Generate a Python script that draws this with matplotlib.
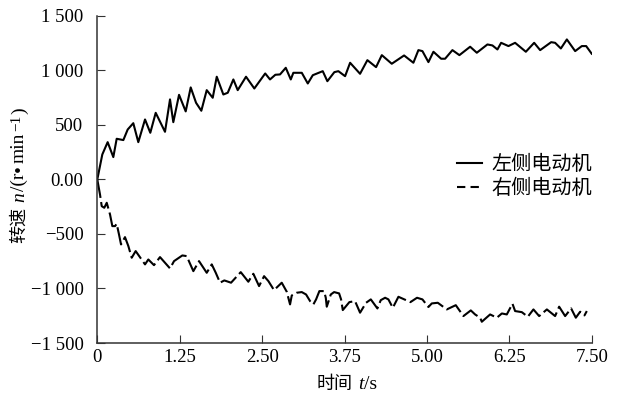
import matplotlib
matplotlib.use('Agg')
import matplotlib.pyplot as plt
from matplotlib.lines import Line2D
from matplotlib.transforms import IdentityTransform

# speed of the left motor (solid) and right motor (dashed), r/min
t_left = [0.000, 0.076, 0.157, 0.243, 0.294, 0.395, 0.461, 0.546, 0.622, 0.724,
          0.804, 0.886, 1.027, 1.103, 1.153, 1.240, 1.341, 1.417, 1.498, 1.578,
          1.660, 1.751, 1.812, 1.912, 1.979, 2.064, 2.130, 2.256, 2.382, 2.547,
          2.620, 2.701, 2.772, 2.859, 2.935, 2.974, 3.102, 3.193, 3.269, 3.420,
          3.490, 3.596, 3.657, 3.759, 3.835, 3.986, 4.097, 4.229, 4.316, 4.467,
          4.654, 4.795, 4.871, 4.932, 5.023, 5.099, 5.216, 5.276, 5.387, 5.493,
          5.656, 5.757, 5.918, 5.994, 6.070, 6.126, 6.237, 6.338, 6.501, 6.627,
          6.718, 6.885, 6.945, 7.032, 7.123, 7.249, 7.350, 7.416, 7.500]
n_left = [0, 229, 342, 205, 373, 361, 458, 516, 342, 550,
          428, 611, 437, 734, 525, 776, 624, 844, 703, 630,
          819, 749, 942, 779, 795, 917, 819, 942, 834, 972,
          917, 960, 963, 1024, 917, 978, 978, 880, 956, 993,
          901, 984, 993, 947, 1070, 969, 1094, 1030, 1140, 1061,
          1137, 1070, 1186, 1177, 1076, 1171, 1107, 1107, 1186, 1140,
          1217, 1162, 1238, 1229, 1192, 1253, 1223, 1253, 1171, 1253,
          1186, 1259, 1253, 1201, 1284, 1177, 1223, 1223, 1153]

t_right = [0.000, 0.041, 0.067, 0.106, 0.143, 0.193, 0.228, 0.269, 0.294, 0.329,
           0.360, 0.420, 0.471, 0.522, 0.582, 0.724, 0.774, 0.860, 0.951, 1.103,
           1.164, 1.290, 1.356, 1.457, 1.543, 1.660, 1.736, 1.797, 1.862, 1.927,
           2.029, 2.176, 2.291, 2.367, 2.454, 2.530, 2.595, 2.681, 2.798, 2.874,
           2.924, 2.950, 3.026, 3.102, 3.167, 3.228, 3.278, 3.319, 3.369, 3.440,
           3.466, 3.481, 3.542, 3.592, 3.668, 3.698, 3.724, 3.824, 3.910, 3.986,
           4.077, 4.149, 4.249, 4.300, 4.366, 4.416, 4.483, 4.568, 4.750, 4.850,
           4.932, 5.023, 5.074, 5.165, 5.302, 5.438, 5.554, 5.666, 5.731, 5.807,
           5.833, 5.959, 6.061, 6.137, 6.212, 6.298, 6.338, 6.440, 6.531, 6.616,
           6.703, 6.820, 6.945, 7.006, 7.097, 7.188, 7.259, 7.325, 7.390, 7.426]
n_right = [0, -138, -245, -260, -214, -321, -428, -428, -407, -504,
           -596, -529, -611, -718, -657, -779, -734, -786, -712, -816,
           -749, -697, -703, -841, -749, -856, -779, -856, -947, -926,
           -947, -850, -938, -865, -978, -887, -932, -1015, -947, -1030,
           -1146, -1064, -1039, -1033, -1055, -1116, -1146, -1100, -1024, -1024,
           -1085, -1167, -1055, -1033, -1045, -1100, -1198, -1125, -1116, -1222,
           -1131, -1100, -1183, -1107, -1085, -1100, -1177, -1076, -1125, -1085,
           -1100, -1170, -1137, -1131, -1192, -1153, -1253, -1201, -1238, -1268,
           -1305, -1238, -1268, -1229, -1238, -1140, -1207, -1217, -1259, -1192,
           -1253, -1192, -1253, -1167, -1253, -1183, -1268, -1213, -1247, -1207]

x_ticks = [0, 1.25, 2.5, 3.75, 5.0, 6.25, 7.5]
x_labels = ['0', '1.25', '2.50', '3.75', '5.00', '6.25', '7.50']
y_ticks = [1500, 1000, 500, 0, -500, -1000, -1500]
y_labels = ['1 500', '1 000', '500', '0.00', '\u2212500', '\u22121 000', '\u22121 500']
series_names = ['左侧电动机', '右侧电动机']

SERIF = 'Liberation Serif'
CJK = 'Noto Sans CJK SC'

fig = plt.figure(figsize=(6.17, 3.97), dpi=100)
ax = fig.add_axes([0.1577, 0.136, 0.8013, 0.824])

ax.plot(t_left, n_left, color='black', lw=1.5)
ax.plot(t_right, n_right, color='black', lw=1.5, ls=(0, (9, 2)))

ax.set_xlim(0, 7.5)
ax.set_ylim(-1500, 1500)
ax.set_xticks(x_ticks)
ax.set_xticklabels(x_labels, family=SERIF, fontsize=13.5)
ax.set_yticks(y_ticks)
ax.set_yticklabels(y_labels, family=SERIF, fontsize=13.5)
ax.tick_params(direction='in', length=6, width=0.8, color='#333333')
ax.tick_params(axis='x', pad=4)
ax.tick_params(axis='y', pad=10)
for side in ('top', 'right'):
    ax.spines[side].set_visible(False)
for side in ('left', 'bottom'):
    ax.spines[side].set_linewidth(1.1)
    ax.spines[side].set_color('#333333')

handles = [Line2D([], [], color='black', lw=1.5),
           Line2D([], [], color='black', lw=1.5, ls=(0, (4, 2.5)))]
ax.legend(handles, series_names, loc='center left', bbox_to_anchor=(0.69, 0.51),
          frameon=False, handlelength=1.25, handletextpad=0.5, labelspacing=0.15,
          prop={'family': CJK, 'size': 14.5})


def place_pieces(pieces, x, y, vertical=False):
    """Lay out text pieces one after another, centred on (x, y) in pixels."""
    renderer = fig.canvas.get_renderer()
    arts, sizes = [], []
    for s, kw, gap, rise in pieces:
        a = fig.text(0, 0, s, transform=IdentityTransform(),
                     rotation=90 if vertical else 0, rotation_mode='anchor',
                     ha='left', va='baseline', **kw)
        bb = a.get_window_extent(renderer)
        arts.append(a)
        sizes.append((bb.height if vertical else bb.width) + gap)
    pos = -sum(sizes) / 2
    for a, size, (s, kw, gap, rise) in zip(arts, sizes, pieces):
        if vertical:
            a.set_position((x - rise, y + pos))
        else:
            a.set_position((x + pos, y + rise))
        pos += size


serif = {'family': SERIF, 'fontsize': 14}
serif_it = {'family': SERIF, 'fontsize': 14, 'style': 'italic'}
serif_sm = {'family': SERIF, 'fontsize': 11}
cjk = {'family': CJK, 'fontsize': 13}

place_pieces([('时间', cjk, 5, 0), ('t', serif_it, 1, 0), ('/s', serif, 0, 0)],
             347, 8)
place_pieces([('转速', cjk, 5, 0), ('n', serif_it, 1, 0), ('/(r', serif, 1, 0),
              ('\u2022', serif, 2, 0), ('min', serif, 2, 0),
              ('\u22121', serif_sm, 1, 4), (')', serif, 0, 0)],
             24, 222, vertical=True)

fig.savefig('out.png', dpi=100)
